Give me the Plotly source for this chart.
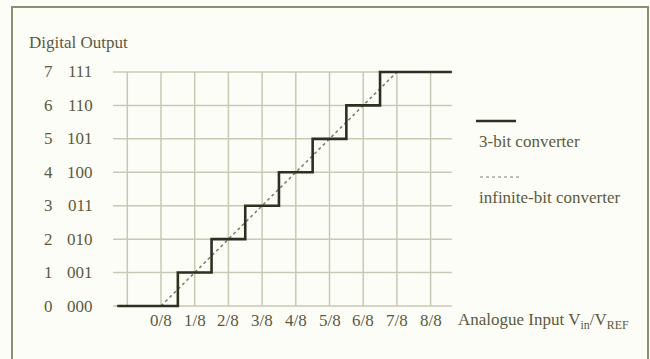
import plotly.graph_objects as go

# Output codes of a 3-bit ADC
codes = [0, 1, 2, 3, 4, 5, 6, 7]
binary_labels = ["000", "001", "010", "011", "100", "101", "110", "111"]
# Input (in eighths of V_REF) where each code transition happens
transitions = [0.5, 1.5, 2.5, 3.5, 4.5, 5.5, 6.5]
# X tick positions (eighths) and labels
x_ticks = [0, 1, 2, 3, 4, 5, 6, 7, 8]
x_tick_labels = ["0/8", "1/8", "2/8", "3/8", "4/8", "5/8", "6/8", "7/8", "8/8"]
# Ideal (infinite resolution) transfer line end points
ideal_x = [0, 7]
ideal_y = [0, 7]

W, H = 650, 359
# pixel mapping of the plotting grid
X0_PX, X_STEP = 161.0, 33.7
Y0_PX, Y_STEP = 306.0, 33.43
x_lo, x_hi = -1.42, 8.63

TEXT = "#5b5a3c"
GRID = "#c8c9b0"
STAIR = "#2c3020"
DOT = "#7e8268"
FONT = "Liberation Serif"

fig = go.Figure()

# grid: horizontal lines at each code, vertical lines at each eighth
gx, gy = [], []
for c in codes:
    gx += [x_lo, x_hi, None]
    gy += [c, c, None]
for v in [-1] + x_ticks:
    gx += [v, v, None]
    gy += [codes[0], codes[-1], None]
fig.add_trace(go.Scatter(x=gx, y=gy, mode="lines",
                         line=dict(color=GRID, width=1.5),
                         hoverinfo="skip", showlegend=False))

# ideal converter line
fig.add_trace(go.Scatter(x=ideal_x, y=ideal_y, mode="lines",
                         line=dict(color=DOT, width=1.6, dash="dot"),
                         showlegend=False))

# 3-bit staircase
sx = [-1.3] + transitions + [x_hi]
sy = [codes[0]] + codes[1:] + [codes[-1]]
fig.add_trace(go.Scatter(x=sx, y=sy, mode="lines", line_shape="hv",
                         line=dict(color=STAIR, width=2.6),
                         showlegend=False))

def px_x(p):
    return (p - X0_PX) / X_STEP

def px_y(p):
    return (Y0_PX - p) / Y_STEP

ann = []
font = dict(family=FONT, size=17, color=TEXT)
for c, b in zip(codes, binary_labels):
    ann.append(dict(x=48 / W, xref="paper", y=c, yref="y", text=str(c),
                    showarrow=False, font=font, xanchor="center", yanchor="middle"))
    ann.append(dict(x=80 / W, xref="paper", y=c, yref="y", text=b,
                    showarrow=False, font=font, xanchor="center", yanchor="middle"))
for v, t in zip(x_ticks, x_tick_labels):
    ann.append(dict(x=v, xref="x", y=1 - 320 / H, yref="paper", text=t,
                    showarrow=False, font=font, xanchor="center", yanchor="middle"))
ann.append(dict(x=456 / W, xref="paper", y=1 - 321 / H, yref="paper",
                text="Analogue Input V<sub>in</sub>/V<sub>REF</sub>",
                showarrow=False, font=font, xanchor="left", yanchor="middle"))
ann.append(dict(x=27 / W, xref="paper", y=1 - 42 / H, yref="paper",
                text="Digital Output", showarrow=False, font=font,
                xanchor="left", yanchor="middle"))
ann.append(dict(x=477 / W, xref="paper", y=1 - 141 / H, yref="paper",
                text="3-bit converter", showarrow=False, font=font,
                xanchor="left", yanchor="middle"))
ann.append(dict(x=477 / W, xref="paper", y=1 - 197 / H, yref="paper",
                text="infinite-bit converter", showarrow=False, font=font,
                xanchor="left", yanchor="middle"))

shapes = [
    # outer frame
    dict(type="rect", xref="paper", yref="paper", x0=12 / W, x1=648 / W,
         y0=-0.05, y1=1 - 7 / H, line=dict(color="#8c9070", width=2)),
    # legend samples
    dict(type="line", xref="paper", yref="paper", x0=476 / W, x1=516 / W,
         y0=1 - 121 / H, y1=1 - 121 / H, line=dict(color=STAIR, width=2.6)),
    dict(type="line", xref="paper", yref="paper", x0=480 / W, x1=519 / W,
         y0=1 - 177 / H, y1=1 - 177 / H, line=dict(color=DOT, width=1.2, dash="dot")),
]

fig.update_layout(
    width=W, height=H, margin=dict(l=0, r=0, t=0, b=0),
    paper_bgcolor="#fdfdf8", plot_bgcolor="#fdfdf8",
    xaxis=dict(range=[px_x(0), px_x(W)], visible=False, fixedrange=True),
    yaxis=dict(range=[px_y(H), px_y(0)], visible=False, fixedrange=True),
    annotations=ann, shapes=shapes, showlegend=False,
)

fig.write_html("out.html")
